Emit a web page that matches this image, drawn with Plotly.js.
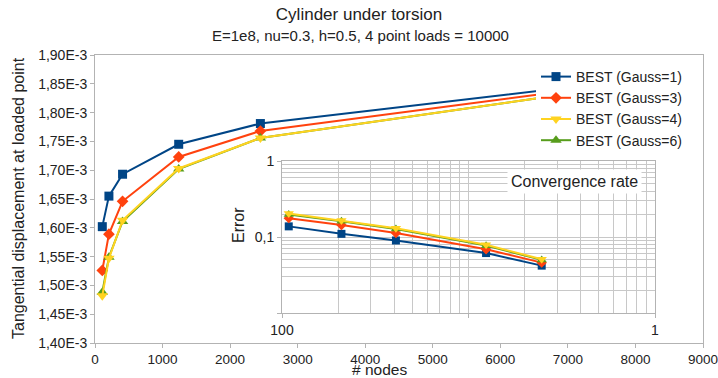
<!DOCTYPE html>
<html>
<head>
<meta charset="utf-8">
<script src="https://cdn.plot.ly/plotly-3.0.1.min.js"></script>
<style>html,body{margin:0;padding:0;background:#fff;}#chart{width:718px;height:378px;}</style>
</head>
<body>
<div id="chart"></div>
<script>
// ---- data ----
const seriesNames = ['BEST (Gauss=1)', 'BEST (Gauss=3)', 'BEST (Gauss=4)', 'BEST (Gauss=6)'];
const nodes  = [108, 206, 408, 1239, 2448, 8100];
const dispG1 = [1.602e-3, 1.655e-3, 1.693e-3, 1.745e-3, 1.781e-3, 1.859e-3];
const dispG3 = [1.526e-3, 1.589e-3, 1.646e-3, 1.723e-3, 1.768e-3, 1.855e-3];
const dispG4 = [1.482e-3, 1.547e-3, 1.613e-3, 1.703e-3, 1.756e-3, 1.851e-3];
const dispG6 = [1.488e-3, 1.549e-3, 1.611e-3, 1.702e-3, 1.756e-3, 1.851e-3];

const errX  = [92, 48, 24.5, 8.05, 4.05];
const errG1 = [0.138, 0.110, 0.090, 0.0615, 0.042];
const errG3 = [0.177, 0.144, 0.113, 0.069, 0.046];
const errG4 = [0.204, 0.165, 0.130, 0.079, 0.051];
const errG6 = [0.197, 0.161, 0.127, 0.077, 0.050];

const yTickVals = [1.40e-3, 1.45e-3, 1.50e-3, 1.55e-3, 1.60e-3, 1.65e-3, 1.70e-3, 1.75e-3, 1.80e-3, 1.85e-3, 1.90e-3];
const yTickText = ['1,40E-3', '1,45E-3', '1,50E-3', '1,55E-3', '1,60E-3', '1,65E-3', '1,70E-3', '1,75E-3', '1,80E-3', '1,85E-3', '1,90E-3'];
const insetXTickVals = [100, 10, 1];
const insetXTickText = ['100', '', '1'];
const insetYTickVals = [0.01, 0.1, 1];
const insetYTickText = ['', '0,1', '1'];

// ---- styles ----
const FONT = 'Liberation Sans, Arial, sans-serif';
const colors = ['#004586', '#ff420e', '#ffd320', '#579d1c'];
const symbols = ['square', 'diamond', 'triangle-down', 'triangle-up'];
const sizes = [9, 9, 10, 10];
const AX = '#b3b3b3';
const GRID = '#c8c8c8';

const mainY = [dispG1, dispG3, dispG4, dispG6];
const errY = [errG1, errG3, errG4, errG6];
const order = [0, 1, 3, 2]; // draw Gauss=6 below Gauss=4
const traces = [];
order.forEach(i => {
  traces.push({
    x: nodes, y: mainY[i], name: seriesNames[i], type: 'scatter', mode: 'lines+markers',
    xaxis: 'x', yaxis: 'y', legendrank: i + 1,
    line: {color: colors[i], width: 2},
    marker: {color: colors[i], symbol: symbols[i], size: sizes[i]}
  });
});
order.forEach(i => {
  traces.push({
    x: errX, y: errY[i], name: seriesNames[i], type: 'scatter', mode: 'lines+markers',
    xaxis: 'x2', yaxis: 'y2', showlegend: false,
    line: {color: colors[i], width: 2},
    marker: {color: colors[i], symbol: symbols[i], size: sizes[i] - 1}
  });
});

// mirrored minor gridline positions as drawn in the reference inset
const xMinor = [];
[100, 10].forEach(top => { for (let k = 2; k <= 9; k++) xMinor.push(top / k); });
const yMinor = [];
[0.01, 0.1].forEach(d => { for (let k = 2; k <= 9; k++) yMinor.push(d * k); });

const L = 95, R = 15, T = 55, B = 35;
const W = 718 - L - R, H = 378 - T - B;
const px2x = p => (p - L) / W;
const py2y = p => (378 - B - p) / H;

const layout = {
  width: 718, height: 378,
  margin: {l: L, r: R, t: T, b: B},
  paper_bgcolor: '#fff', plot_bgcolor: '#fff',
  font: {family: FONT, size: 14, color: '#222'},
  showlegend: true,
  title: {text: 'Cylinder under torsion', font: {family: FONT, size: 17, color: '#222'},
          x: 0.5, xanchor: 'center', y: 1 - 14 / 378, yanchor: 'middle'},
  legend: {x: px2x(536), y: py2y(61), xanchor: 'left', yanchor: 'top',
           bgcolor: '#fff', borderwidth: 0, font: {family: FONT, size: 14, color: '#222'},
           tracegroupgap: 0, itemwidth: 30},
  xaxis: {domain: [0, 1], range: [0, 9000], dtick: 1000, tick0: 0,
          showline: true, mirror: true, linecolor: AX, linewidth: 1,
          ticks: 'outside', ticklen: 4, tickcolor: AX, showgrid: false, zeroline: false,
          ticklabeloverflow: 'allow',
          tickfont: {family: FONT, size: 13.5, color: '#222'}},
  yaxis: {domain: [0, 1], range: [1.4e-3, 1.9e-3], tickmode: 'array',
          tickvals: yTickVals, ticktext: yTickText,
          showline: true, mirror: true, linecolor: AX, linewidth: 1,
          ticks: 'outside', ticklen: 4, tickcolor: AX, showgrid: false, zeroline: false,
          tickfont: {family: FONT, size: 14, color: '#222'}},
  xaxis2: {domain: [px2x(282), px2x(655)], anchor: 'y2', type: 'log', range: [2, 0],
           tickmode: 'array', tickvals: insetXTickVals, ticktext: insetXTickText,
           showline: true, mirror: true, linecolor: AX, linewidth: 1,
           ticks: 'outside', ticklen: 4, tickcolor: AX,
           showgrid: true, gridcolor: GRID, gridwidth: 1, zeroline: false,
           minor: {tickmode: 'array', tickvals: xMinor, showgrid: true, gridcolor: GRID, gridwidth: 1, ticks: ''},
           tickfont: {family: FONT, size: 14, color: '#222'}},
  yaxis2: {domain: [py2y(313), py2y(161)], anchor: 'x2', type: 'log', range: [-2, 0],
           tickmode: 'array', tickvals: insetYTickVals, ticktext: insetYTickText,
           showline: true, mirror: true, linecolor: AX, linewidth: 1,
           ticks: 'outside', ticklen: 4, tickcolor: AX,
           showgrid: true, gridcolor: GRID, gridwidth: 1, zeroline: false,
           minor: {tickmode: 'array', tickvals: yMinor, showgrid: true, gridcolor: GRID, gridwidth: 1, ticks: ''},
           tickfont: {family: FONT, size: 14, color: '#222'}},
  annotations: [
    {text: 'E=1e8, nu=0.3, h=0.5, 4 point loads = 10000', xref: 'paper', yref: 'paper',
     x: px2x(360), y: py2y(35), xanchor: 'center', yanchor: 'middle', showarrow: false,
     font: {family: FONT, size: 15, color: '#222'}},
    {text: 'Tangential displacement at loaded point', xref: 'paper', yref: 'paper',
     x: px2x(18), y: py2y(198), xanchor: 'center', yanchor: 'middle', textangle: -90, showarrow: false,
     font: {family: FONT, size: 16, color: '#222'}},
    {text: '# nodes', xref: 'paper', yref: 'paper',
     x: px2x(379), y: py2y(369), xanchor: 'center', yanchor: 'middle', showarrow: false,
     font: {family: FONT, size: 15.5, color: '#222'}},
    {text: 'Error', xref: 'paper', yref: 'paper',
     x: px2x(238), y: py2y(225), xanchor: 'center', yanchor: 'middle', textangle: -90, showarrow: false,
     font: {family: FONT, size: 16, color: '#222'}},
    {text: 'Convergence rate', xref: 'paper', yref: 'paper',
     x: px2x(574), y: py2y(181), xanchor: 'center', yanchor: 'middle', showarrow: false,
     bgcolor: '#fff', borderpad: 3,
     font: {family: FONT, size: 16, color: '#222'}}
  ]
};

Plotly.newPlot('chart', traces, layout, {displayModeBar: false, staticPlot: true});
</script>
</body>
</html>
